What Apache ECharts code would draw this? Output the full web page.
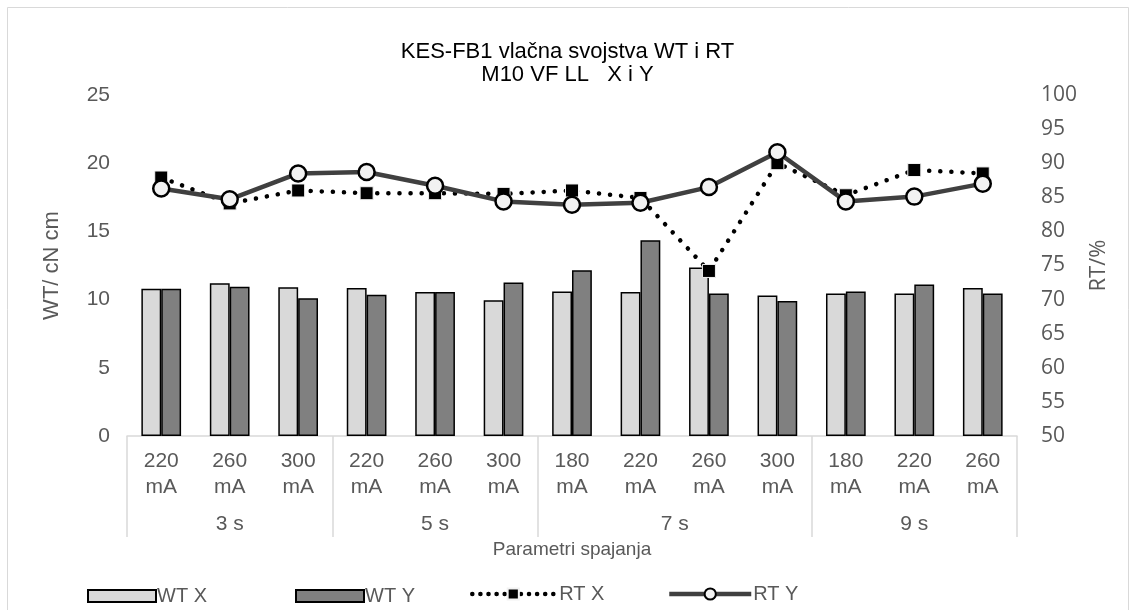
<!DOCTYPE html>
<html>
<head>
<meta charset="utf-8">
<script src="https://cdn.jsdelivr.net/npm/echarts@6/dist/echarts.min.js"></script>
<style>
html,body{margin:0;padding:0;background:#fff;}
#chart{width:1135px;height:610px;}
</style>
</head>
<body>
<div id="chart"></div>
<script>
// ---- data ----
const currents = ['220', '260', '300', '220', '260', '300', '180', '220', '260', '300', '180', '220', '260'];
const groups = ['3 s', '5 s', '7 s', '9 s'];
const groupSizes = [3, 3, 4, 3];
const wtX = [10.8, 11.2, 10.9, 10.85, 10.55, 9.95, 10.6, 10.55, 12.35, 10.3, 10.45, 10.45, 10.85];
const wtY = [10.8, 10.95, 10.1, 10.35, 10.55, 11.25, 12.15, 14.35, 10.45, 9.9, 10.6, 11.1, 10.45];
const rtX = [87.9, 84.1, 86.0, 85.6, 85.6, 85.5, 86.0, 84.9, 74.2, 90.0, 85.3, 89.0, 88.5];
const rtY = [86.3, 84.7, 88.5, 88.7, 86.7, 84.4, 83.9, 84.2, 86.5, 91.6, 84.4, 85.1, 87.0];
const leftTicks = [0, 25, 5];
const rightTicks = [50, 100, 5];

// group boundaries & centres
const bounds = [0];
groupSizes.forEach(s => bounds.push(bounds[bounds.length - 1] + s));
const centres = groupSizes.map((s, i) => bounds[i] + s / 2);

const FONT = '"Liberation Sans", Arial, sans-serif';
const TXT = '#595959';

const chart = echarts.init(document.getElementById('chart'));
chart.setOption({
  animation: false,
  backgroundColor: '#fff',
  textStyle: { fontFamily: FONT },
  title: {
    text: 'KES-FB1 vlačna svojstva WT i RT\nM10 VF LL   X i Y',
    left: 'center', top: 35,
    textStyle: { fontFamily: FONT, fontSize: 22, fontWeight: 'normal', color: '#000', lineHeight: 23 }
  },
  graphic: [{
    type: 'rect', silent: true, z: -10,
    shape: { x: 7.5, y: 7.5, width: 1121, height: 640 },
    style: { fill: 'none', stroke: '#d9d9d9', lineWidth: 1 }
  }],
  grid: { left: 127, right: 118, top: 95, bottom: 174, containLabel: false },
  legend: [
    { data: [{ name: 'WT X', icon: 'rect' }], left: 82, top: 581, itemWidth: 68, itemHeight: 12, itemGap: 0,
      textStyle: { fontSize: 20, color: TXT, fontFamily: FONT, padding: [0,0,0,-4] } },
    { data: [{ name: 'WT Y', icon: 'rect' }], left: 290, top: 581, itemWidth: 68, itemHeight: 12,
      textStyle: { fontSize: 20, color: TXT, fontFamily: FONT, padding: [0,0,0,-4] } },
    { data: ['RT X'], left: 465, top: 579, itemWidth: 82, itemHeight: 14,
      lineStyle: { width: 4.5, type: [0.1, 8], cap: 'round', color: '#000' },
      textStyle: { fontSize: 20, color: TXT, fontFamily: FONT } },
    { data: ['RT Y'], left: 662, top: 579, itemWidth: 82, itemHeight: 14,
      lineStyle: { width: 4.5, color: '#404040' },
      textStyle: { fontSize: 20, color: TXT, fontFamily: FONT, padding: [0,0,0,-3] } }
  ],
  xAxis: [
    {
      type: 'category',
      data: currents.map(c => c + '\nmA'),
      position: 'bottom',
      axisLine: { show: true, lineStyle: { color: '#d9d9d9', width: 1.5 } },
      axisTick: { show: false },
      axisLabel: { interval: 0, fontSize: 21, color: TXT, lineHeight: 26, margin: 12, fontFamily: FONT }
    },
    {
      type: 'value', min: 0, max: bounds[bounds.length - 1],
      position: 'bottom',
      name: 'Parametri spajanja', nameLocation: 'middle', nameGap: 98,
      nameTextStyle: { fontSize: 19, color: TXT, fontFamily: FONT },
      axisLine: { show: false },
      splitLine: { show: false },
      axisTick: { show: true, customValues: bounds, length: 101, inside: false,
                  lineStyle: { color: '#d9d9d9', width: 1.5 } },
      axisLabel: { show: true, customValues: centres, margin: 78, fontSize: 21, color: TXT, fontFamily: FONT,
                   formatter: v => { const i = centres.indexOf(v); return i >= 0 ? groups[i] : ''; } }
    }
  ],
  yAxis: [
    {
      type: 'value', min: leftTicks[0], max: leftTicks[1], interval: leftTicks[2],
      name: 'WT/ cN cm', nameLocation: 'middle', nameGap: 64, nameRotate: 90,
      nameTextStyle: { fontSize: 22, color: TXT, fontFamily: FONT },
      axisLine: { show: false }, axisTick: { show: false }, splitLine: { show: false },
      axisLabel: { fontSize: 21, color: TXT, margin: 17, fontFamily: FONT }
    },
    {
      type: 'value', min: rightTicks[0], max: rightTicks[1], interval: rightTicks[2],
      name: 'RT/%', nameLocation: 'middle', nameGap: 68, nameRotate: 90,
      nameTextStyle: { fontSize: 22, color: TXT, fontFamily: '"Open Sans", sans-serif' },
      axisLine: { show: false }, axisTick: { show: false }, splitLine: { show: false },
      axisLabel: { fontSize: 21, color: TXT, margin: 24, fontFamily: '"Open Sans", sans-serif' }
    }
  ],
  series: [
    {
      name: 'WT X', type: 'bar', data: wtX, xAxisIndex: 0, yAxisIndex: 0,
      barGap: '0%', barCategoryGap: '42%',
      itemStyle: { color: '#d9d9d9', borderColor: '#000', borderWidth: 1.5 }
    },
    {
      name: 'WT Y', type: 'bar', data: wtY, xAxisIndex: 0, yAxisIndex: 0,
      barGap: '0%', barCategoryGap: '42%',
      itemStyle: { color: '#808080', borderColor: '#000', borderWidth: 1.5 }
    },
    {
      name: 'RT X', type: 'line', data: rtX, xAxisIndex: 0, yAxisIndex: 1,
      symbol: 'rect', symbolSize: 13,
      lineStyle: { color: '#000', width: 4.5, type: [0.1, 11], cap: 'round' },
      itemStyle: { color: '#000', borderColor: '#f2f2f2', borderWidth: 1 },
      z: 3
    },
    {
      name: 'RT Y', type: 'line', data: rtY, xAxisIndex: 0, yAxisIndex: 1,
      symbol: 'circle', symbolSize: 16,
      lineStyle: { color: '#404040', width: 4.5 },
      itemStyle: { color: '#f2f2f2', borderColor: '#000', borderWidth: 2.5 },
      z: 4
    }
  ]
});
</script>
</body>
</html>
